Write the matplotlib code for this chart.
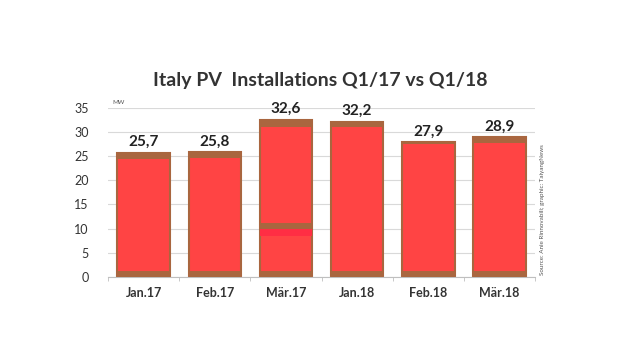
import numpy as np
import matplotlib.pyplot as plt

plt.rcParams["font.family"] = ["Lato", "DejaVu Sans"]

months = ["Jan.17", "Feb.17", "Mär.17", "Jan.18", "Feb.18", "Mär.18"]
mw = [25.7, 25.8, 32.6, 32.2, 27.9, 28.9]
labels = ["25,7", "25,8", "32,6", "32,2", "27,9", "28,9"]
top_band = [1.3, 1.2, 1.5, 1.2, 0.3, 1.2]
bottom_band = 1.2

red = "#ff4444"
brown = "#a9663f"

fig = plt.figure(figsize=(6.4, 3.6), dpi=100)
ax = fig.add_axes([0.169, 0.231, 0.667, 0.469])

x = np.arange(len(months))
w = 0.74
ax.bar(x, mw, width=w, color=red, edgecolor=brown, linewidth=1.5, zorder=2)
ax.bar(x, top_band, width=w, bottom=np.array(mw) - np.array(top_band),
       color=brown, linewidth=0, zorder=3)
ax.bar(x, bottom_band, width=w, color=brown, linewidth=0, zorder=3)
# Mär.17 extra band
ax.bar(2, 1.2, width=w, bottom=10.0, color=brown, linewidth=0, zorder=3)
ax.bar(2, 1.5, width=w, bottom=8.5, color="#ff2e44", linewidth=0, zorder=3)

for xi, v, t in zip(x, mw, labels):
    ax.text(xi, v + 0.8, t, ha="center", va="bottom", fontsize=11,
            fontweight="bold", color="#222222", clip_on=False)

ax.set_xlim(-0.5, 5.5)
ax.set_ylim(0, 35)
ax.set_yticks(range(0, 36, 5))
ax.yaxis.grid(True, color="#d9d9d9", linewidth=0.8, zorder=0)
ax.set_axisbelow(True)
ax.set_xticks(x)
ax.set_xticklabels(months, fontsize=9, fontweight="bold", color="#333333")
ax.set_xticks(np.arange(-0.5, 6, 1), minor=True)
ax.tick_params(axis="x", which="major", length=0, pad=7)
ax.tick_params(axis="x", which="minor", length=3, color="#bfbfbf")
ax.tick_params(axis="y", length=0, labelsize=9, labelcolor="#333333", pad=14)
for s in ["top", "right", "left"]:
    ax.spines[s].set_visible(False)
ax.spines["bottom"].set_color("#bfbfbf")

fig.text(0.175, 0.71, "MW", fontsize=4.5, color="#555555")
fig.text(0.5, 0.76, "Italy PV  Installations Q1/17 vs Q1/18", ha="center",
         fontsize=14, fontweight="bold", color="#333333")
fig.text(0.848, 0.235, "Source: Anie Rinnovabili; graphic: TaiyangNews",
         rotation=90, fontsize=4.5, color="#555555", va="bottom", ha="center")

fig.savefig("out.png", dpi=100)
